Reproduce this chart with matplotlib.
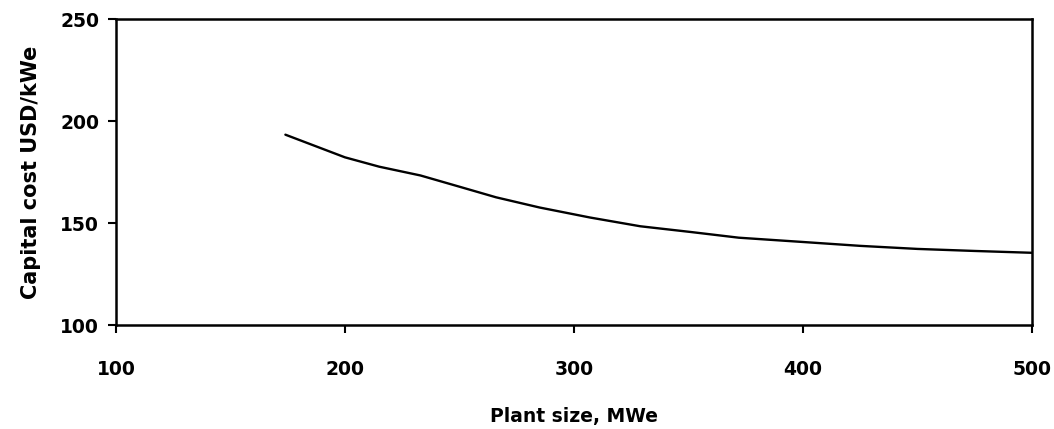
import matplotlib
matplotlib.use("Agg")
import matplotlib.pyplot as plt

# Capital cost vs. plant size
plant_size_mwe = [174, 200, 215, 233, 250, 266, 285, 307, 329, 351, 372, 400, 425, 450, 475, 500]
capital_cost_usd_per_kwe = [193.3, 182.2, 177.6, 173.3, 167.8, 162.6, 157.6, 152.7,
                            148.4, 145.6, 142.8, 140.7, 138.8, 137.3, 136.3, 135.4]

x_ticks = [100, 200, 300, 400, 500]
y_ticks = [100, 150, 200, 250]

plt.rcParams['font.family'] = ['DejaVu Sans']

fig = plt.figure(figsize=(10.54, 4.29), dpi=100)
ax = fig.add_axes([0.110, 0.2424, 0.869, 0.7133])

ax.plot(plant_size_mwe, capital_cost_usd_per_kwe, color='black', lw=1.7,
        solid_capstyle='round', solid_joinstyle='round')

ax.set_xlim(100, 500)
ax.set_ylim(100, 250)
ax.set_xticks(x_ticks)
ax.set_yticks(y_ticks)

for s in ax.spines.values():
    s.set_linewidth(1.8)
    s.set_color('black')

ax.tick_params(axis='both', direction='out', length=6, width=1.5,
               labelsize=13.5)
ax.tick_params(axis='y', pad=6)
ax.tick_params(axis='x', pad=19)
for lbl in ax.get_xticklabels() + ax.get_yticklabels():
    lbl.set_fontweight('bold')

ax.set_xlabel('Plant size, MWe', fontsize=13.5, fontweight='bold', labelpad=20)
ax.set_ylabel('Capital cost USD/kWe', fontsize=15, fontweight='bold', labelpad=14)

fig.savefig('out.png', dpi=100)
